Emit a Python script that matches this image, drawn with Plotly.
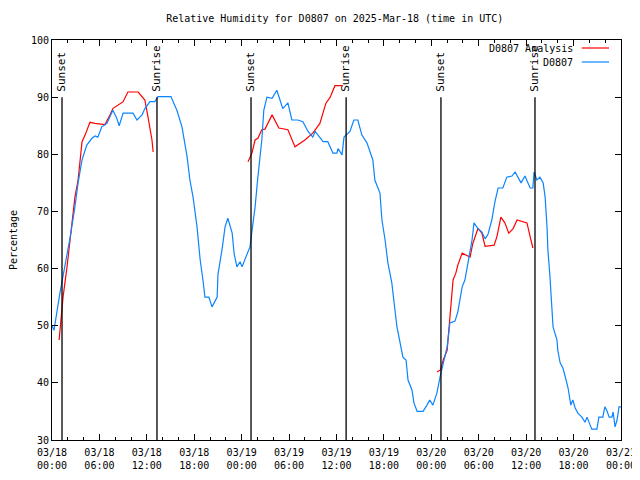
import pandas as pd
import plotly.graph_objects as go

START = pd.Timestamp("2025-03-18 00:00")

# Observed RH (D0807): hours since start, percent
obs_hours = [0.0, 0.25, 1.0, 1.65, 2.3, 2.9, 3.3, 3.8, 4.4, 5.05, 5.45, 5.8, 6.3, 6.95, 7.35, 7.7,
             8.2, 8.5, 9.0, 10.25, 10.75, 11.4, 11.75, 12.4, 13.0, 13.4, 15.05, 15.8, 16.45, 17.1,
             17.45, 17.85, 18.35, 18.75, 19.1, 19.35, 19.85, 20.25, 20.9, 21.0, 21.5, 21.9, 22.25,
             22.8, 23.05, 23.4, 23.8, 24.05, 24.7, 25.05, 25.3, 25.7, 26.05, 26.55, 26.8, 27.2,
             27.85, 28.45, 28.85, 29.2, 29.85, 30.35, 31.1, 31.75, 32.4, 33.0, 33.3, 33.9, 34.3,
             34.9, 35.55, 36.05, 36.2, 36.7, 36.95, 37.7, 38.2, 38.7, 39.2, 39.85, 40.25, 40.6,
             40.85, 41.5, 41.75, 42.15, 42.5, 43.0, 43.4, 43.65, 44.05, 44.4, 44.8, 45.05, 45.55,
             45.8, 46.2, 46.95, 47.45, 47.8, 48.2, 48.7, 49.1, 49.5, 50.0, 50.35, 51.0, 51.35,
             51.9, 52.25, 52.65, 53.15, 53.4, 53.9, 54.4, 54.8, 55.15, 55.65, 56.05, 56.45, 57.05,
             57.55, 58.2, 58.6, 58.95, 59.35, 59.85, 60.2, 60.5, 60.85, 61.0, 61.35, 61.75, 62.15,
             62.4, 62.65, 62.75, 63.0, 63.25, 63.4, 63.9, 64.0, 64.3, 64.65, 65.05, 65.3, 65.65,
             65.9, 66.2, 66.55, 67.05, 67.45, 67.7, 68.1, 68.3, 68.95, 69.2, 69.7, 69.95, 70.2,
             70.5, 70.85, 71.0, 71.25, 71.5, 71.75, 72.0]
obs_rh = [50.0, 49.2, 55.7, 60.3, 65.5, 70.8, 75.0, 79.0, 81.6, 82.8, 83.2, 83.0, 84.8, 85.4, 86.5, 87.7,
          86.3, 85.0, 87.2, 87.2, 86.0, 86.9, 88.0, 89.2, 89.2, 90.1, 90.1, 87.7, 84.8, 79.5,
          75.5, 72.5, 67.3, 61.5, 58.0, 55.0, 55.0, 53.3, 55.0, 59.0, 63.2, 67.3, 68.8,
          66.2, 62.6, 60.3, 61.2, 60.3, 62.6, 63.8, 66.5, 70.8, 76.0, 82.5, 87.7, 90.0,
          89.8, 91.2, 89.5, 88.0, 89.0, 86.0, 86.0, 85.7, 84.0, 83.0, 84.0, 82.8, 82.2,
          82.2, 80.2, 80.2, 81.0, 79.9, 83.0, 84.0, 86.0, 86.0, 83.4, 82.0, 80.2, 79.0,
          75.5, 73.2, 68.5, 65.0, 61.0, 57.5, 52.7, 49.8, 47.0, 44.5, 44.0, 40.5, 38.75,
          36.5, 35.0, 35.0, 36.1, 37.0, 36.1, 38.2, 41.0, 43.5, 46.3, 50.5, 50.8, 52.4,
          56.8, 58.0, 61.0, 65.0, 68.0, 67.0, 66.4, 65.2, 65.9, 68.5, 71.7, 74.1, 74.1,
          76.0, 76.2, 76.9, 76.0, 75.0, 76.2, 75.2, 74.1, 74.1, 76.9, 75.5, 76.0, 75.0,
          72.5, 67.0, 63.2, 58.8, 54.0, 49.8, 47.5, 45.7, 43.5, 42.6, 40.5, 39.1, 36.1,
          37.0, 35.6, 34.7, 34.0, 33.1, 34.0, 32.6, 31.9, 31.9, 34.0, 34.0, 35.8, 35.2,
          34.0, 34.0, 34.9, 32.3, 33.5, 35.8, 35.8]

# Analysis RH (D0807 Analysis), three nightly segments
ana1_hours = [0.9, 1.4, 1.9, 2.55, 2.9, 3.3, 3.55, 3.8, 4.2, 4.8, 5.45, 6.7, 7.35, 7.7, 9.0, 9.6,
              10.9, 11.75, 12.15, 12.4, 12.65, 12.8]
ana1_rh = [47.5, 55.0, 60.3, 68.0, 72.5, 75.5, 79.5, 82.2, 83.4, 85.6, 85.4, 85.2, 86.9, 88.0, 89.2, 90.9,
           90.9, 89.5, 86.5, 84.8, 82.5, 80.4]
ana2_hours = [24.8, 25.3, 25.7, 26.05, 26.55, 26.95, 27.85, 28.7, 29.85, 30.75, 32.0, 33.0, 33.9,
              34.65, 35.2, 35.8, 36.8]
ana2_rh = [78.7, 80.2, 82.5, 82.8, 84.3, 84.4, 86.9, 84.6, 84.3, 81.3, 82.5, 83.7, 85.4,
           88.9, 90.0, 92.0, 92.0]
ana3_hours = [48.7, 49.2, 49.5, 50.0, 50.25, 50.5, 50.75, 51.1, 51.35, 51.9, 52.9, 53.25, 53.9,
              54.4, 54.8, 55.95, 56.3, 56.8, 57.3, 57.8, 58.35, 58.85, 59.85, 60.1, 60.5, 60.85]
ana3_rh = [41.9, 42.3, 44.0, 45.7, 49.8, 53.3, 58.0, 59.2, 60.6, 62.7, 62.0, 64.4, 67.0,
           66.2, 63.9, 64.1, 65.6, 69.0, 68.0, 66.2, 67.0, 68.5, 68.2, 68.0, 65.6, 63.6]

sun_times = ["2025-03-18 01:16", "2025-03-18 13:17", "2025-03-19 01:11",
             "2025-03-19 13:13", "2025-03-20 01:13", "2025-03-20 13:07"]
sun_labels = ["Sunset", "Sunrise", "Sunset", "Sunrise", "Sunset", "Sunrise"]

series_names = ["D0807 Analysis", "D0807"]
series_colors = ["#ff0000", "#0a84ff"]

tick_times = pd.date_range("2025-03-18 00:00", "2025-03-21 00:00", freq="6h")
tick_text = [t.strftime("%m/%d<br>%H:%M") for t in tick_times]

def to_time(hours):
    return [START + pd.Timedelta(hours=h) for h in hours]

ana_x, ana_y = [], []
for hs, vs in [(ana1_hours, ana1_rh), (ana2_hours, ana2_rh), (ana3_hours, ana3_rh)]:
    ana_x += to_time(hs) + [None]
    ana_y += vs + [None]

FONT = "DejaVu Sans Mono"
FS = 10
fig = go.Figure()
fig.add_trace(go.Scatter(x=ana_x, y=ana_y, mode="lines", name=series_names[0],
                         line=dict(color=series_colors[0], width=1.2), connectgaps=False))
fig.add_trace(go.Scatter(x=to_time(obs_hours), y=obs_rh, mode="lines", name=series_names[1],
                         line=dict(color=series_colors[1], width=1.2)))

for t, lab in zip(sun_times, sun_labels):
    fig.add_shape(type="line", x0=t, x1=t, y0=30, y1=90, xref="x", yref="y",
                  line=dict(color="black", width=1.3))
    fig.add_annotation(x=t, y=90.6, xref="x", yref="y", text=lab, textangle=-90,
                       showarrow=False, yanchor="bottom", xanchor="center",
                       font=dict(family=FONT, size=FS + 1, color="black"))

# gnuplot-style key: text right-aligned, line sample to its right
for i, (name, col) in enumerate(zip(series_names, series_colors)):
    ky = 0.98 - i * 0.035
    fig.add_annotation(x=0.92, y=ky, xref="paper", yref="paper", text=name, showarrow=False,
                       xanchor="right", yanchor="middle", font=dict(family=FONT, size=FS, color="black"))
    fig.add_shape(type="line", x0=0.931, x1=0.979, y0=ky, y1=ky, xref="paper", yref="paper",
                  line=dict(color=col, width=1.2))

axis_common = dict(showline=True, linecolor="black", linewidth=1, mirror="ticks",
                   ticks="inside", ticklen=6, tickcolor="black", showgrid=False, zeroline=False,
                   automargin=False, tickfont=dict(family=FONT, size=FS, color="black"))

# the page body adds an 8px offset, so the figure is 632x472
fig.update_layout(
    width=632, height=472,
    margin=dict(l=44, r=19, t=32, b=40),
    paper_bgcolor="white", plot_bgcolor="white",
    title=dict(text="Relative Humidity for D0807 on 2025-Mar-18 (time in UTC)",
               x=0.517, xanchor="center", xref="container", y=0.977, yref="container",
               yanchor="middle", font=dict(family=FONT, size=FS, color="black")),
    font=dict(family=FONT, size=FS, color="black"),
    showlegend=False,
)
fig.update_xaxes(range=[tick_times[0], tick_times[-1]], tickvals=list(tick_times), ticktext=tick_text,
                 ticklabelstandoff=3,
                 minor=dict(ticks="inside", ticklen=3, dtick=2 * 3600 * 1000, tickcolor="black"),
                 **axis_common)
fig.update_yaxes(range=[30, 100], dtick=10, title=dict(text="Percentage", standoff=17,
                 font=dict(family=FONT, size=FS)), **axis_common)

fig.write_html("out.html")
